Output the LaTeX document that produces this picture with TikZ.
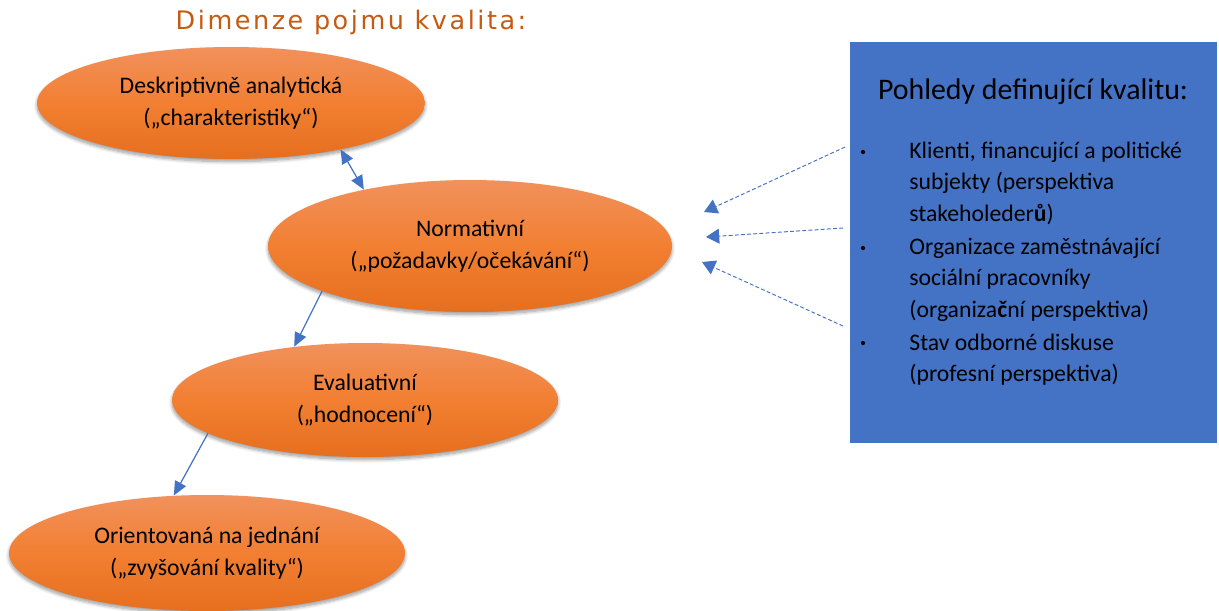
\documentclass[tikz,border=0pt]{standalone}
\usepackage{fontspec}
\setmainfont{Carlito}
\newfontfamily\titlefont[LetterSpace=10]{DejaVu Sans}
\usepackage{tikz}
\usetikzlibrary{shapes.geometric, arrows.meta, positioning, shadows.blur}
\usepackage{xcolor}
\definecolor{ovalTop}{RGB}{241,145,92}
\definecolor{ovalMid}{RGB}{242,127,50}
\definecolor{ovalBot}{RGB}{230,111,30}
\definecolor{boxBlue}{RGB}{68,114,196}
\definecolor{titleBrown}{RGB}{197,90,17}

\begin{document}
\begin{tikzpicture}[x=0.02cm, y=-0.02cm,
    font=\fontsize{13.5}{18}\selectfont,
    dim/.style={ellipse, inner sep=0pt, align=center,
        top color=ovalTop, bottom color=ovalBot, middle color=ovalMid,
        blur shadow={shadow xshift=0pt, shadow yshift=-1.5pt,
            shadow blur steps=8, shadow opacity=40}},
    link/.style={color=boxBlue, line width=0.7pt},
    dashlink/.style={color=boxBlue, line width=0.55pt,
        dash pattern=on 2.2pt off 1.3pt},
    tip/.style={-{Triangle[length=8pt,width=7pt]}},
    dot/.style={circle, fill=black, inner sep=0pt, minimum size=2.4pt}]
    \useasboundingbox (0,0) rectangle (1219,610);

    % heading
    \node[text=titleBrown, font=\titlefont\fontsize{14.5}{17}\selectfont]
        (heading) at (351,22) {Dimenze pojmu kvalita:};

    % the four dimensions
    \node[dim, minimum width=7.76cm, minimum height=2.24cm]
        (desk) at (231,103) {Deskriptivně analytická\\(„charakteristiky“)};
    \node[dim, minimum width=8.08cm, minimum height=2.64cm]
        (norm) at (470,246) {Normativní\\(„požadavky/očekávání“)};
    \node[dim, minimum width=7.72cm, minimum height=2.28cm]
        (eval) at (365,400) {Evaluativní\\(„hodnocení“)};
    \node[dim, minimum width=7.92cm, minimum height=2.32cm]
        (orient) at (207,553) {Orientovaná na jednání\\(„zvyšování kvality“)};

    % the box of views
    \node[fill=boxBlue, inner sep=0pt, minimum width=7.34cm,
        minimum height=8.02cm] (views) at (1033.5,242.5) {};
    \node[font=\fontsize{17}{20}\selectfont]
        (viewshead) at (1033,92) {Pohledy definující kvalitu:};
    % base of the last line
    \node[anchor=base west, align=left, inner sep=0pt]
        (item1) at (909,221.5) {Klienti, financující a politické\\subjekty (perspektiva\\stakeholeder\textbf{ů})};
    \node[anchor=base west, align=left, inner sep=0pt]
        (item2) at (909,317.5) {Organizace zaměstnávající\\sociální pracovníky\\(organiza\textbf{č}ní perspektiva)};
    \node[anchor=base west, align=left, inner sep=0pt]
        (item3) at (909,381.7) {Stav odborné diskuse\\(profesní perspektiva)};
    \node[dot] (dot1) at (863,152) {};
    \node[dot] (dot2) at (863,248) {};
    \node[dot] (dot3) at (863,343) {};

    \coordinate (s1) at (845,147);
    \coordinate (s2) at (843,228);
    \coordinate (s3) at (843,326);
    \coordinate (t1) at (704,212);
    \coordinate (t2) at (706,237);
    \coordinate (t3) at (702,262);

    \draw[link, {Triangle[length=8pt,width=7pt]}-{Triangle[length=8pt,width=7pt]}]
        (desk.-23) -- (norm.152);
    \draw[link]
        (norm.197) edge[tip] (eval.143)
        (eval.192) edge[tip] (orient.120);
    \draw[dashlink]
        (s1) edge[-{Triangle[length=7.5pt,width=8.5pt]}] (t1)
        (s2) edge[-{Triangle[length=7.5pt,width=8.5pt]}] (t2)
        (s3) edge[-{Triangle[length=7.5pt,width=8.5pt]}] (t3);
\end{tikzpicture}
\end{document}
